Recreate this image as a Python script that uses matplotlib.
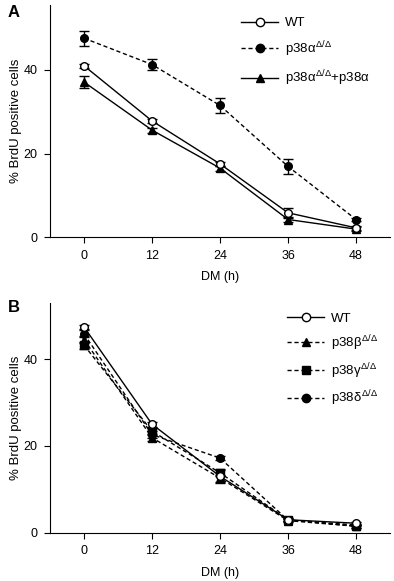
import matplotlib.pyplot as plt
from matplotlib.lines import Line2D

plt.rcParams['font.family'] = ['Liberation Sans', 'DejaVu Sans']
plt.rcParams['mathtext.fontset'] = 'custom'
plt.rcParams['mathtext.rm'] = 'Liberation Sans'
plt.rcParams['mathtext.it'] = 'Liberation Sans'

hours = [0, 12, 24, 36, 48]

# Panel A
a_wt = [41.0, 27.8, 17.5, 5.8, 2.2]
a_wt_err = [0.5, 0.5, 0.5, 1.2, 0.5]
a_ko = [47.6, 41.3, 31.5, 16.9, 4.2]
a_ko_err = [1.8, 1.3, 1.7, 1.7, 0.4]
a_rescue = [37.1, 25.6, 16.5, 4.2, 1.9]
a_rescue_err = [1.5, 0.6, 0.6, 0.6, 0.4]

# Panel B
b_wt = [47.4, 25.0, 13.0, 3.0, 2.2]
b_wt_err = [0.5, 0.6, 1.5, 0.4, 0.3]
b_beta = [44.5, 21.9, 12.6, 2.8, 1.5]
b_beta_err = [0.8, 0.8, 0.8, 0.3, 0.3]
b_gamma = [43.2, 23.4, 13.8, 3.0, 1.5]
b_gamma_err = [0.8, 0.8, 0.8, 0.3, 0.3]
b_delta = [45.8, 22.6, 17.2, 2.9, 1.8]
b_delta_err = [0.8, 0.8, 0.5, 0.3, 0.3]

dash = (0, (3, 2))

fig = plt.figure(figsize=(3.94, 5.81), dpi=100)
axA = fig.add_axes([0.127, 0.592, 0.863, 0.399])
axB = fig.add_axes([0.127, 0.083, 0.863, 0.396])


def style(ax, ytop):
    ax.set_xlim(-6, 54)
    ax.set_ylim(0, ytop)
    ax.set_xticks(hours)
    ax.set_yticks([0, 20, 40])
    ax.spines['top'].set_visible(False)
    ax.spines['right'].set_visible(False)
    ax.spines['left'].set_linewidth(0.8)
    ax.spines['bottom'].set_linewidth(0.8)
    ax.tick_params(labelsize=9, length=4, width=0.8, pad=5)
    ax.set_xlabel('DM (h)', fontsize=9, labelpad=7)
    ax.set_ylabel('% BrdU positive cells', fontsize=9.5, labelpad=1)


def series(ax, y, err, marker, mfc, ls, label, z):
    ax.errorbar(hours, y, yerr=err, color='black', marker=marker, mfc=mfc,
                mec='black', ms=5.5, lw=1, ls=ls, capsize=3.5, elinewidth=1,
                capthick=1, zorder=z)
    return Line2D([], [], color='black', marker=marker, mfc=mfc, mec='black',
                  ms=6, lw=1, ls=ls, label=label)


hA_ko = series(axA, a_ko, a_ko_err, 'o', 'black', dash, r'p38$\alpha^{\Delta/\Delta}$', 3)
hA_res = series(axA, a_rescue, a_rescue_err, '^', 'black', '-', r'p38$\alpha^{\Delta/\Delta}$+p38$\alpha$', 3)
hA_wt = series(axA, a_wt, a_wt_err, 'o', 'white', '-', 'WT', 4)
style(axA, 55.5)
fig.legend(handles=[hA_wt, hA_ko, hA_res], frameon=False, fontsize=9.5,
           handlelength=2.8, handletextpad=0.5, labelspacing=0.75, borderpad=0,
           loc='upper left', bbox_to_anchor=(0.596, 0.982))

hB_beta = series(axB, b_beta, b_beta_err, '^', 'black', dash, r'p38$\beta^{\Delta/\Delta}$', 3)
hB_gamma = series(axB, b_gamma, b_gamma_err, 's', 'black', dash, r'p38$\gamma^{\Delta/\Delta}$', 3)
hB_delta = series(axB, b_delta, b_delta_err, 'o', 'black', dash, r'p38$\delta^{\Delta/\Delta}$', 3)
hB_wt = series(axB, b_wt, b_wt_err, 'o', 'white', '-', 'WT', 4)
style(axB, 53)
fig.legend(handles=[hB_wt, hB_beta, hB_gamma, hB_delta], frameon=False,
           fontsize=9.5, handlelength=2.8, handletextpad=0.5, labelspacing=0.62,
           borderpad=0, loc='upper left', bbox_to_anchor=(0.712, 0.473))

fig.text(0.02, 0.978, 'A', fontsize=12, fontweight='bold', va='center')
fig.text(0.02, 0.47, 'B', fontsize=12, fontweight='bold', va='center')

fig.savefig('out.png', dpi=100)
